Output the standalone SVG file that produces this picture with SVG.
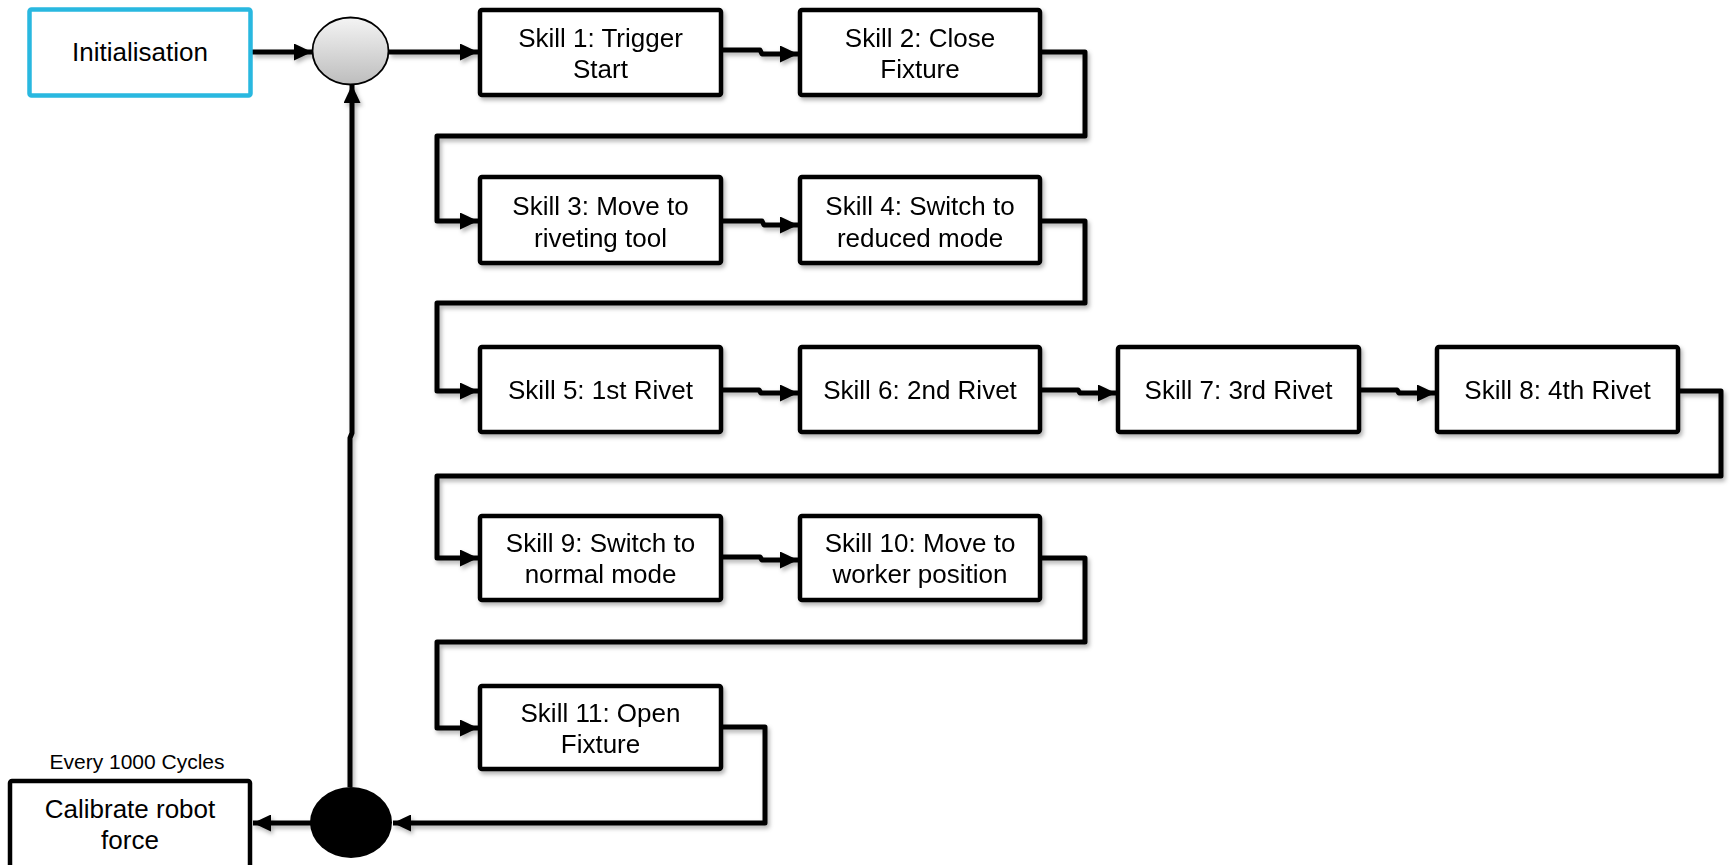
<svg xmlns="http://www.w3.org/2000/svg" width="1730" height="865" viewBox="0 0 1730 865">
<style>
.box{fill:#fff;stroke:#000;stroke-width:4.5}
.init{fill:#fff;stroke:#29B8E0;stroke-width:4.5}
.t{font-family:"Liberation Sans",Arial,sans-serif;font-size:26px;fill:#000;text-anchor:middle}
.s{font-family:"Liberation Sans",Arial,sans-serif;font-size:21px;fill:#000;text-anchor:middle}
.c{fill:none;stroke:#000;stroke-width:5;stroke-linejoin:round;marker-end:url(#ah)}
</style>
<defs>
<marker id="ah" markerUnits="userSpaceOnUse" markerWidth="19" markerHeight="17" refX="18" refY="8.5" orient="auto">
<path d="M0,0 L18,8.5 L0,17 Z" fill="#000"/>
</marker>
<linearGradient id="gg" x1="0" y1="0" x2="0" y2="1">
<stop offset="0" stop-color="#f4f4f4"/>
<stop offset="1" stop-color="#bdbdbd"/>
</linearGradient>
<filter id="sh" x="-5%" y="-5%" width="115%" height="120%">
<feDropShadow dx="2" dy="3" stdDeviation="2" flood-color="#000" flood-opacity="0.3"/>
</filter>
</defs>

<g id="connectors" filter="url(#sh)">
<path class="c" d="M252,52 H312"/>
<path class="c" d="M389,52 H478"/>
<path class="c" d="M723,50 H760 L762,54 H798"/>
<path class="c" d="M1042,52 H1085 V136 H437 V221 H478"/>
<path class="c" d="M723,221 H762 L764,225 H798"/>
<path class="c" d="M1042,221 H1085 V303 H437 V391 H478"/>
<path class="c" d="M723,390 H759 L761,393 H798"/>
<path class="c" d="M1042,390 H1078 L1080,393 H1116"/>
<path class="c" d="M1361,390 H1397 L1399,393 H1435"/>
<path class="c" d="M1680,391 H1721 V476 H437 V558 H478"/>
<path class="c" d="M723,557 H760 L762,560 H798"/>
<path class="c" d="M1042,558 H1085 V642 H437 V728 H478"/>
<path class="c" d="M723,727 H765 V823 H393"/>
<path class="c" d="M311,823 H253"/>
<path class="c" d="M350,787 V438 L352,433 V85"/>
</g>

<g id="merge">
<ellipse cx="350.5" cy="51" rx="38" ry="33.5" fill="url(#gg)" stroke="#000" stroke-width="1.8"/>
</g>
<g id="decision">
<ellipse cx="351" cy="822.5" rx="41" ry="35.5" fill="#000"/>
</g>

<g id="init">
<rect class="init" x="29.5" y="9.5" width="221" height="86" rx="2"/>
<text class="t" x="140" y="61">Initialisation</text>
</g>

<g id="skill1" filter="url(#sh)">
<rect class="box" x="480" y="10" width="241" height="85" rx="2"/>
<text class="t" x="600.5" y="47">Skill 1: Trigger</text>
<text class="t" x="600.5" y="78">Start</text>
</g>
<g id="skill2" filter="url(#sh)">
<rect class="box" x="800" y="10" width="240" height="85" rx="2"/>
<text class="t" x="920" y="47">Skill 2: Close</text>
<text class="t" x="920" y="78">Fixture</text>
</g>
<g id="skill3" filter="url(#sh)">
<rect class="box" x="480" y="177" width="241" height="86" rx="2"/>
<text class="t" x="600.5" y="215">Skill 3: Move to</text>
<text class="t" x="600.5" y="247">riveting tool</text>
</g>
<g id="skill4" filter="url(#sh)">
<rect class="box" x="800" y="177" width="240" height="86" rx="2"/>
<text class="t" x="920" y="215">Skill 4: Switch to</text>
<text class="t" x="920" y="247">reduced mode</text>
</g>
<g id="skill5" filter="url(#sh)">
<rect class="box" x="480" y="347" width="241" height="85" rx="2"/>
<text class="t" x="600.5" y="399">Skill 5: 1st Rivet</text>
</g>
<g id="skill6" filter="url(#sh)">
<rect class="box" x="800" y="347" width="240" height="85" rx="2"/>
<text class="t" x="920" y="399">Skill 6: 2nd Rivet</text>
</g>
<g id="skill7" filter="url(#sh)">
<rect class="box" x="1118" y="347" width="241" height="85" rx="2"/>
<text class="t" x="1238.5" y="399">Skill 7: 3rd Rivet</text>
</g>
<g id="skill8" filter="url(#sh)">
<rect class="box" x="1437" y="347" width="241" height="85" rx="2"/>
<text class="t" x="1557.5" y="399">Skill 8: 4th Rivet</text>
</g>
<g id="skill9" filter="url(#sh)">
<rect class="box" x="480" y="516" width="241" height="84" rx="2"/>
<text class="t" x="600.5" y="552">Skill 9: Switch to</text>
<text class="t" x="600.5" y="583">normal mode</text>
</g>
<g id="skill10" filter="url(#sh)">
<rect class="box" x="800" y="516" width="240" height="84" rx="2"/>
<text class="t" x="920" y="552">Skill 10: Move to</text>
<text class="t" x="920" y="583">worker position</text>
</g>
<g id="skill11" filter="url(#sh)">
<rect class="box" x="480" y="686" width="241" height="83" rx="2"/>
<text class="t" x="600.5" y="722">Skill 11: Open</text>
<text class="t" x="600.5" y="753">Fixture</text>
</g>
<g id="calibrate">
<text class="s" x="137" y="769">Every 1000 Cycles</text>
<rect class="box" x="10" y="781" width="240" height="100" rx="2"/>
<text class="t" x="130" y="818">Calibrate robot</text>
<text class="t" x="130" y="849">force</text>
</g>
</svg>
